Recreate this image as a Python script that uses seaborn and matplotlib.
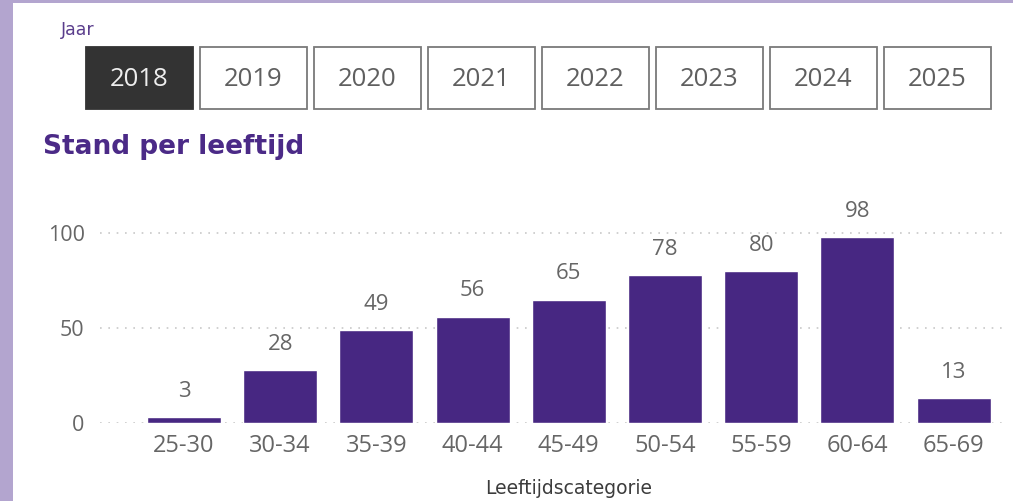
import matplotlib
matplotlib.use("Agg")
import matplotlib.pyplot as plt
from matplotlib.patches import Rectangle
import seaborn as sns
import pandas as pd

# data
categories = ["25-30", "30-34", "35-39", "40-44", "45-49", "50-54", "55-59", "60-64", "65-69"]
values = [3, 28, 49, 56, 65, 78, 80, 98, 13]
years = ["2018", "2019", "2020", "2021", "2022", "2023", "2024", "2025"]
selected_year = "2018"
y_ticks = [0, 50, 100]

purple = "#472782"
frame = "#b3a5cf"
grey_txt = "#666666"

W, H = 1013, 501
sns.set_style("white")
plt.rcParams['font.family'] = ['Open Sans', 'DejaVu Sans']

fig = plt.figure(figsize=(W / 100, H / 100), dpi=100, facecolor=frame)

# white panel, lavender strip left and top
fig.patches.append(Rectangle((13 / W, 0), 1 - 13 / W, 1 - 3 / H,
                             transform=fig.transFigure, facecolor="white",
                             edgecolor="none", zorder=-5))

# slicer
fig.text(61 / W, 1 - 35 / H, "Jaar", color="#5a3d8c", fontsize=12.5,
         family=["DejaVu Sans"], va="baseline")
for i, yr in enumerate(years):
    x0 = 86 + 114 * i
    sel = yr == selected_year
    fig.patches.append(Rectangle((x0 / W, 1 - 109 / H), 107 / W, 62 / H,
                                 transform=fig.transFigure,
                                 facecolor="#333333" if sel else "white",
                                 edgecolor="#333333" if sel else "#7a7a7a",
                                 linewidth=1.3, zorder=1))
    fig.text((x0 + 53.5) / W, 1 - 79 / H, yr, fontsize=18.5,
             color="#eeeeee" if sel else "#5f5f5f", ha="center", va="center")

# title
fig.text(43 / W, 1 - 154 / H, "Stand per leeftijd", color="#4b2a87",
         fontsize=19, fontweight="bold", family=["DejaVu Sans"],
         va="baseline")

# chart
ax = fig.add_axes([100 / W, (H - 423) / H, 905 / W, 223 / H])
ax.set_zorder(2)
ax.set_facecolor("none")
df = pd.DataFrame({"cat": categories, "val": values})
sns.barplot(data=df, x="cat", y="val", color=purple, saturation=1,
            width=0.77, ax=ax, zorder=3)
ax.bar_label(ax.containers[0], padding=11, color=grey_txt, fontsize=16)

ax.set_xlim(-0.873, 8.534)
ax.set_ylim(0, 117.4)
ax.set_yticks(y_ticks)
for t in y_ticks:
    ax.axhline(t, color="#c8c8c8", linestyle=(0, (1, 4)), linewidth=1.2, zorder=1)
sns.despine(ax=ax, left=True, bottom=True)
ax.tick_params(axis="y", length=0, pad=11, labelcolor=grey_txt, labelsize=15.5)
ax.tick_params(axis="x", length=0, pad=8, labelcolor=grey_txt, labelsize=17)
ax.set_ylabel("")
ax.set_xlabel("Leeftijdscategorie", fontsize=13.5, color="#3c3c3c",
              family=["DejaVu Sans"])
ax.xaxis.set_label_coords((569 - 100) / 905, -0.25)

fig.savefig("out.png", dpi=100, facecolor=frame)
